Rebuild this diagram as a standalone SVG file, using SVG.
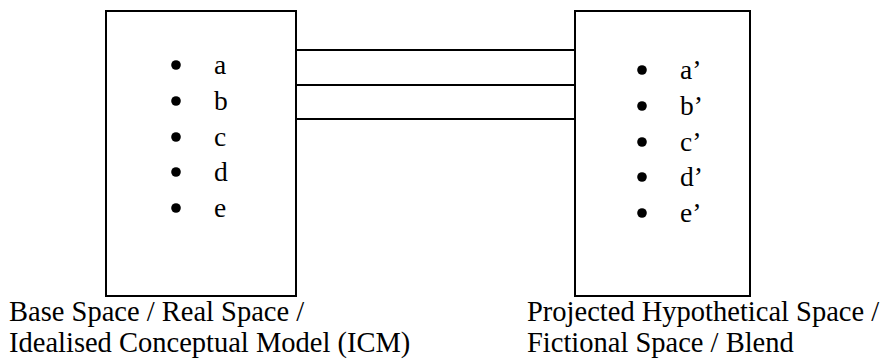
<svg xmlns="http://www.w3.org/2000/svg" width="894" height="362" viewBox="0 0 894 362">
<style>
.box{fill:#fff;stroke:#000;stroke-width:2}
.ln{stroke:#000;stroke-width:2;fill:none}
.t{font-family:"Liberation Serif","Times New Roman",serif;font-size:27.5px;fill:#000}
.lbl{font-family:"Liberation Serif","Times New Roman",serif;font-size:28.5px;fill:#000}
.dot{fill:#000}
</style>
<rect width="894" height="362" fill="#fff"/>
<g id="connectors">
<line class="ln" x1="296" y1="50" x2="575" y2="50"/>
<line class="ln" x1="296" y1="85" x2="575" y2="85"/>
<line class="ln" x1="296" y1="119" x2="575" y2="119"/>
</g>
<g id="base-space">
<rect class="box" x="106" y="11" width="190" height="285"/>
<circle class="dot" cx="176" cy="65" r="4.8"/>
<circle class="dot" cx="176" cy="101" r="4.8"/>
<circle class="dot" cx="176" cy="137" r="4.8"/>
<circle class="dot" cx="176" cy="172" r="4.8"/>
<circle class="dot" cx="176" cy="208" r="4.8"/>
<text class="t" x="214" y="74">a</text>
<text class="t" x="214" y="110">b</text>
<text class="t" x="214" y="146">c</text>
<text class="t" x="214" y="181">d</text>
<text class="t" x="214" y="217">e</text>
<text class="lbl" x="9" y="321">Base Space / Real Space /</text>
<text class="lbl" x="9" y="352">Idealised Conceptual Model (ICM)</text>
</g>
<g id="projected-space">
<rect class="box" x="575" y="11" width="175" height="285"/>
<circle class="dot" cx="642" cy="70" r="4.8"/>
<circle class="dot" cx="642" cy="106" r="4.8"/>
<circle class="dot" cx="642" cy="142" r="4.8"/>
<circle class="dot" cx="642" cy="177" r="4.8"/>
<circle class="dot" cx="642" cy="213" r="4.8"/>
<text class="t" x="680" y="79">a’</text>
<text class="t" x="680" y="115">b’</text>
<text class="t" x="680" y="151">c’</text>
<text class="t" x="680" y="186">d’</text>
<text class="t" x="680" y="222">e’</text>
<text class="lbl" x="527" y="321">Projected Hypothetical Space /</text>
<text class="lbl" x="527" y="352">Fictional Space / Blend</text>
</g>
</svg>
